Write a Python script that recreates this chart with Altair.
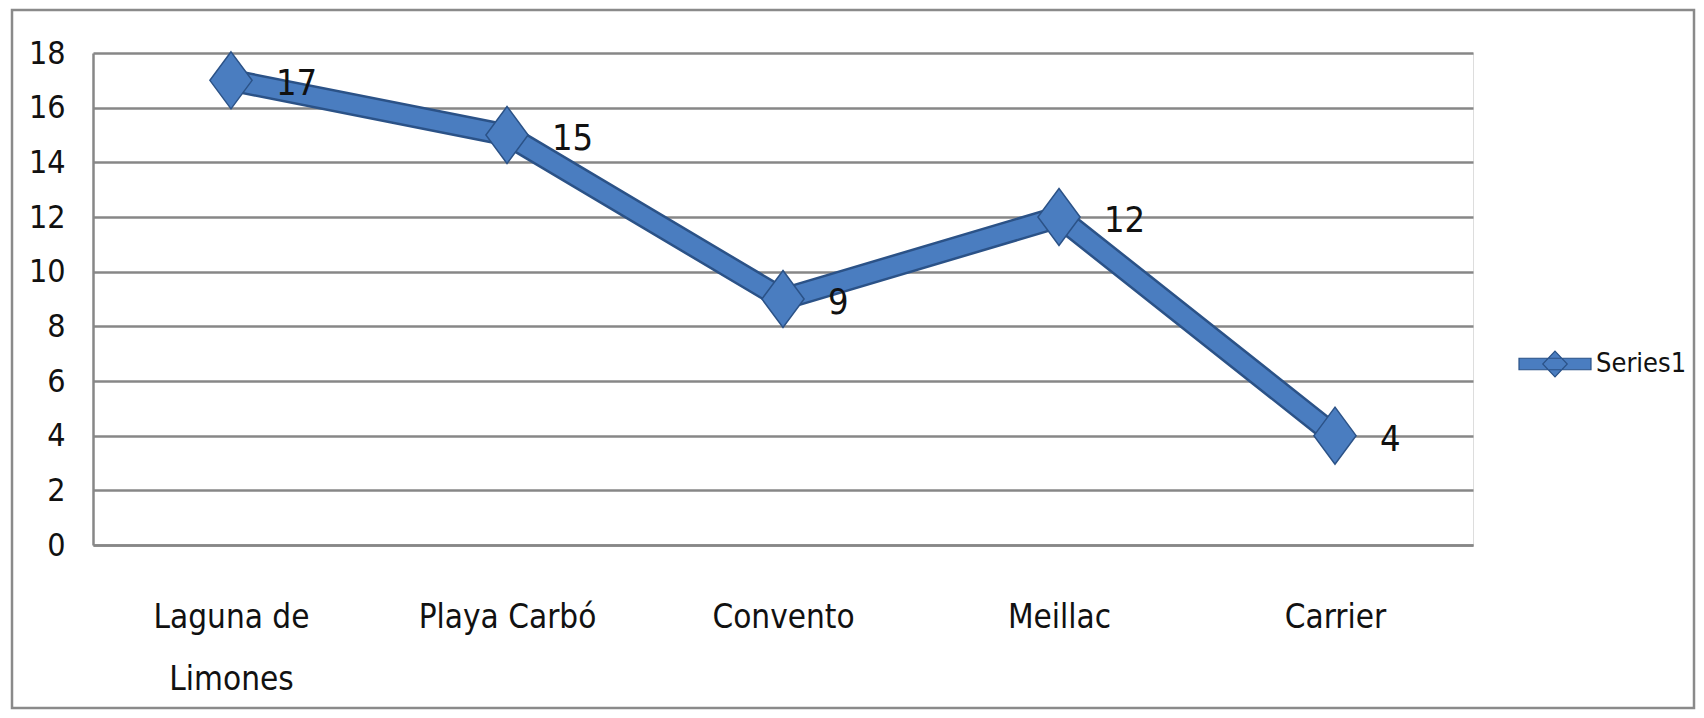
import altair as alt
import pandas as pd

categories = ["Laguna de Limones", "Playa Carbó", "Convento", "Meillac", "Carrier"]
values = [17, 15, 9, 12, 4]
series_name = "Series1"
y_ticks = [0, 2, 4, 6, 8, 10, 12, 14, 16, 18]

FONT = "Liberation Sans Narrow, DejaVu Sans Condensed, Roboto, sans-serif"
EDGE = "#2b5287"
FILL = "#4a7dc0"
GRID = "#878787"

df = pd.DataFrame({"site": categories, "value": values, "series": series_name})

x_enc = alt.X(
    "site:N",
    sort=categories,
    scale=alt.Scale(paddingInner=0, paddingOuter=0),
    axis=alt.Axis(
        title=None,
        labelAngle=0,
        labelFont=FONT,
        labelFontSize=33,
        labelColor="#111111",
        labelPadding=56,
        labelLineHeight=62,
        labelBaseline="top",
        labelExpr="datum.label == 'Laguna de Limones' ? ['Laguna de', 'Limones'] : datum.label",
        ticks=False,
        domainColor=GRID,
        domainWidth=2.5,
        grid=False,
    ),
)
y_enc = alt.Y(
    "value:Q",
    scale=alt.Scale(domain=[0, 18], nice=False),
    axis=alt.Axis(
        title=None,
        values=y_ticks,
        labelFont=FONT,
        labelFontSize=32,
        labelColor="#111111",
        labelPadding=28,
        ticks=False,
        domainColor=GRID,
        domainWidth=2.5,
        gridColor=GRID,
        gridWidth=2.5,
    ),
)

base = alt.Chart(df)

line_edge = base.mark_line(color=EDGE, strokeWidth=23, strokeJoin="round").encode(x=x_enc, y=y_enc)
line_fill = base.mark_line(color=FILL, strokeWidth=18, strokeJoin="round").encode(x=x_enc, y=y_enc)

diamond = "M0,-1L0.74,0L0,1L-0.74,0Z"
legend_symbol = "M-1,-0.16L1,-0.16L1,0.16L-1,0.16Z M0,-0.36L0.34,0L0,0.36L-0.34,0Z"

points = base.mark_point(
    shape=diamond, size=3249, filled=True, fill=FILL, stroke=EDGE, strokeWidth=1.5, opacity=1
).encode(
    x=x_enc,
    y=y_enc,
    color=alt.Color(
        "series:N",
        scale=alt.Scale(range=[FILL]),
        legend=alt.Legend(
            title=None,
            orient="none",
            legendX=1425,
            legendY=274,
            symbolType=legend_symbol,
            symbolSize=5184,
            symbolStrokeColor=EDGE,
            symbolStrokeWidth=1.2,
            labelFont=FONT,
            labelFontSize=27,
            labelColor="#111111",
            labelOffset=4,
            padding=0,
        ),
    ),
)

labels = base.mark_text(
    align="left", baseline="middle", dx=45, dy=4, font=FONT, fontSize=36, color="#111111"
).encode(x=x_enc, y=y_enc, text=alt.Text("value:Q"))

border = alt.Chart(pd.DataFrame({"b": [0]})).mark_rect(
    fillOpacity=0, stroke="#8a8a8a", strokeWidth=2.5
).encode(
    x=alt.value(-81), x2=alt.value(1601), y=alt.value(-43), y2=alt.value(655)
)

chart = alt.layer(border, line_edge, line_fill, points, labels).properties(
    width=1380,
    height=492,
    autosize=alt.AutoSizeParams(type="none"),
    padding={"left": 85, "top": 45, "right": 223, "bottom": 165},
).configure_view(stroke=None).configure(background="white")

chart.save("out.html", embed_options={"renderer": "svg", "actions": False})
